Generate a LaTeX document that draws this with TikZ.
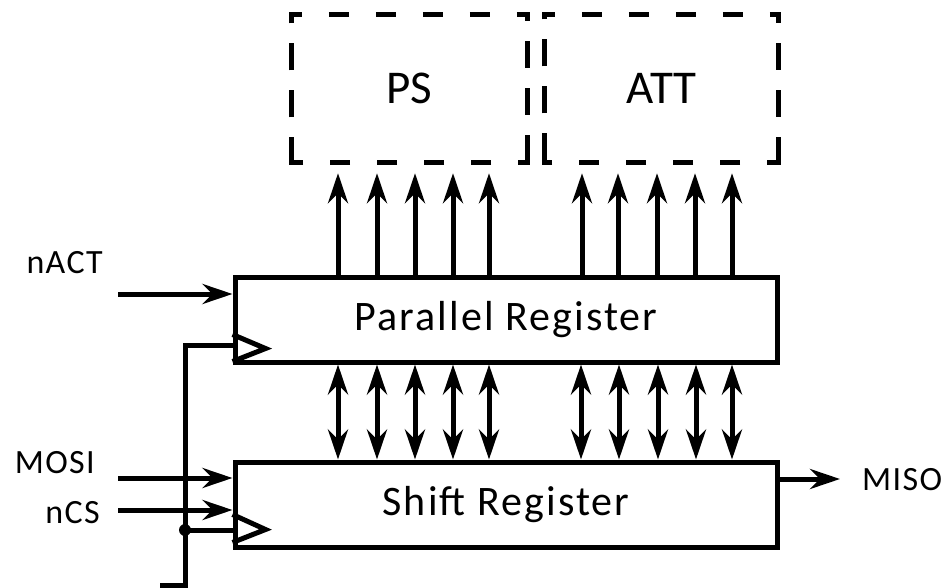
\documentclass[tikz,border=0pt]{standalone}
\usepackage{fontspec}
\setmainfont{Carlito}
\newfontfamily\spfont[LetterSpace=5]{Carlito}
\newfontfamily\lbfont[LetterSpace=4]{Carlito}
\usetikzlibrary{arrows.meta,calc}
\begin{document}
\begin{tikzpicture}[x=1pt,y=-1pt,
  wire/.style={line width=5pt},
  arr/.style={wire,-{Stealth[length=30pt,width=20pt,inset=10pt]}},
  barr/.style={wire,{Stealth[length=30pt,width=20pt,inset=10pt]}-{Stealth[length=30pt,width=20pt,inset=10pt]}},
  reg/.style={draw,line width=5pt,minimum width=542pt,minimum height=85pt,inner sep=0pt,
    font=\spfont\fontsize{42}{46}\selectfont},
  blk/.style={minimum width=235pt,minimum height=147pt,inner sep=0pt,
    font=\fontsize{47}{50}\selectfont},
  dbox/.style={line width=5pt,
    dash pattern=on 0pt off 27pt on 20pt off 27pt on 20pt off 27pt on 20pt off 27pt on 20pt off 27pt
      on 17pt off 20pt on 27pt off 20pt on 27pt off 20pt
      on 36pt off 27pt on 20pt off 27pt on 20pt off 27pt on 20pt off 27pt on 20pt off 27pt
      on 36pt off 20pt on 27pt off 20pt on 27pt off 20pt on 17pt},
  lbl/.style={inner sep=0pt,font=\lbfont\fontsize{34}{38}\selectfont}
]
\useasboundingbox (0,0) rectangle (942,588);
\fill[white] (0,0) rectangle (942,588);

% blocks
\node[blk] (ps) at (409.5,88.5) {PS};
\node[blk,minimum width=233pt] (att) at (661.5,88.5) {ATT};
\draw[dbox] ($(ps.north west)+(10,0)$) -- (ps.north east) -- (ps.south east) -- (ps.south west) -- (ps.north west) -- ($(ps.north west)+(10,0)$);
\draw[dbox] ($(att.north west)+(10,0)$) -- (att.north east) -- (att.south east) -- (att.south west) -- (att.north west) -- ($(att.north west)+(10,0)$);

\node[reg] (preg) at (506,319.5) {Parallel Register};
\node[reg] (sreg) at (506,504.5) {Shift Register};

% clock triangles
\draw[wire] ($(preg.south west)+(0,-30)$) -- ++(33,14) -- ++(-33,13);
\draw[wire] ($(sreg.south west)+(0,-35)$) -- ++(33,15) -- ++(-33,13);

% outputs to PS / ATT
\foreach \x in {338,377,415,453,489}
  \draw[arr] (\x,0 |- preg.north) -- ($(\x,0 |- ps.south)+(0,11)$);
\foreach \x in {582,618,657,695,732}
  \draw[arr] (\x,0 |- preg.north) -- ($(\x,0 |- att.south)+(0,11)$);

% bidirectional
\foreach \x in {338,377,415,453,489,581,619,658,696,732}
  \draw[barr] (\x,0 |- preg.south) -- (\x,0 |- sreg.north);

% inputs
\coordinate (nactin) at (118,294);
\coordinate (mosiin) at (118,478);
\coordinate (ncsin) at (118,510);
\draw[arr] (nactin) -- (nactin -| preg.west);
\draw[arr] (mosiin) -- (mosiin -| sreg.west);
\draw[arr] (ncsin) -- (ncsin -| sreg.west);

\node[lbl,anchor=base east] (nact) at (103,273) {nACT};
\node[lbl,anchor=base east] (mosi) at (95,473) {MOSI};
\node[lbl,anchor=base east] (ncs) at (100,523) {nCS};

% clock line
\coordinate (clkin) at (160,585);
\coordinate (clkj) at (185,530);
\coordinate (pclk) at ($(preg.south west)+(0,-19)$);
\draw[wire] (clkin) -- (clkin -| clkj) |- (pclk);
\draw[wire] (clkj) -- (clkj -| sreg.west);
\fill (clkj) circle (6pt);

% output
\coordinate (misoout) at (840,479);
\draw[arr] (misoout -| sreg.east) -- (misoout);
\node[lbl,anchor=base west] (miso) at (862,490) {MISO};
\end{tikzpicture}
\end{document}
